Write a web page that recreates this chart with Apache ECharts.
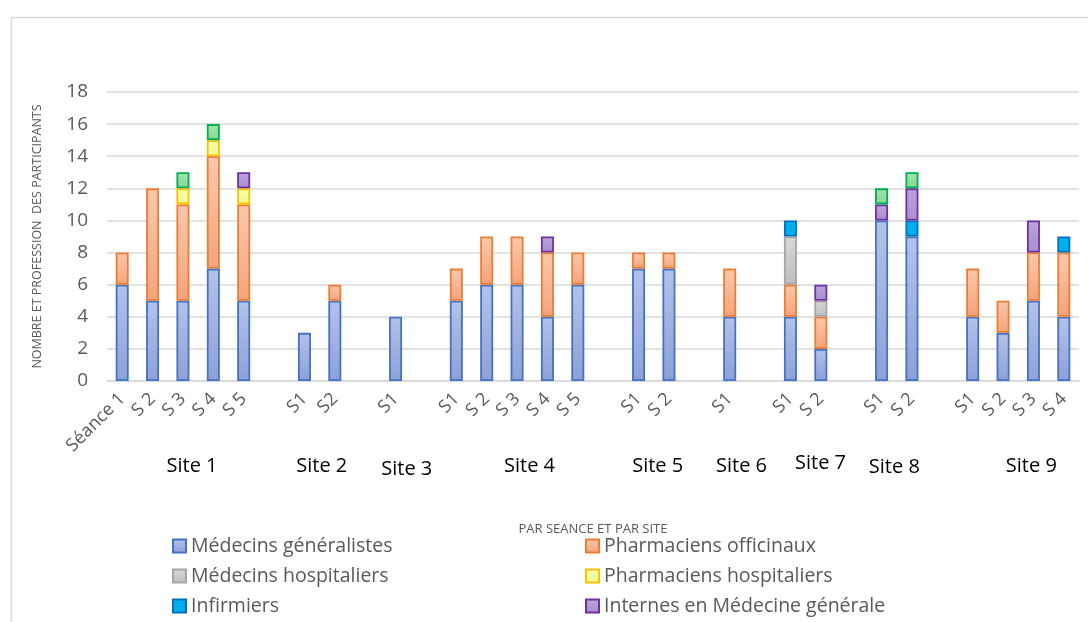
<!DOCTYPE html>
<html><head><meta charset="utf-8">
<script src="https://cdn.jsdelivr.net/npm/echarts@6.0.0/dist/echarts.min.js"></script>
<style>html,body{margin:0;padding:0;background:#fff}#c{width:1088px;height:622px}</style>
</head><body><div id="c"></div>
<script>
// ---- data ----
const categories = ['Séance 1','S 2','S 3','S 4','S 5','','S1','S2','','S1','','S1','S 2','S 3','S 4','S 5','','S1','S 2','','S1','','S1','S 2','','S1','S 2','','S1','S 2','S 3','S 4'];
const medecinsGeneralistes = [6,5,5,7,5,0,3,5,0,4,0,5,6,6,4,6,0,7,7,0,4,0,4,2,0,10,9,0,4,3,5,4];
const pharmaciensOfficinaux = [2,7,6,7,6,0,0,1,0,0,0,2,3,3,4,2,0,1,1,0,3,0,2,2,0,0,0,0,3,2,3,4];
const medecinsHospitaliers = [0,0,0,0,0,0,0,0,0,0,0,0,0,0,0,0,0,0,0,0,0,0,3,1,0,0,0,0,0,0,0,0];
const pharmaciensHospitaliers = [0,0,1,1,1,0,0,0,0,0,0,0,0,0,0,0,0,0,0,0,0,0,0,0,0,0,0,0,0,0,0,0];
const infirmiers = [0,0,0,0,0,0,0,0,0,0,0,0,0,0,0,0,0,0,0,0,0,0,1,0,0,0,1,0,0,0,0,1];
const internesMG = [0,0,0,0,1,0,0,0,0,0,0,0,0,0,1,0,0,0,0,0,0,0,0,1,0,1,2,0,0,0,2,0];
const autres = [0,0,1,1,0,0,0,0,0,0,0,0,0,0,0,0,0,0,0,0,0,0,0,0,0,1,1,0,0,0,0,0];
const sites = ['Site 1','Site 2','Site 3','Site 4','Site 5','Site 6','Site 7','Site 8','Site 9'];
const yTicks = [0,2,4,6,8,10,12,14,16,18];

// ---- layout (label placement, not data) ----
const siteLabelAt = [2.30, 6.57, 9.37, 13.41, 17.63, 20.39, 22.99, 25.42, 29.93];
const siteLabelY = [466,466,469,466,466,466,463,467,466];

const FONT = '"Open Sans", "Liberation Sans", sans-serif';
function grad(top, bottom){
  return new echarts.graphic.LinearGradient(0,0,0,1,[{offset:0,color:top},{offset:1,color:bottom}]);
}
function mk(name, data, top, bottom, border){
  return {
    name, type:'bar', stack:'all', barWidth:13,
    data: data.map(v => v === 0 ? '-' : v),
    itemStyle:{color:grad(top,bottom), borderColor:border, borderWidth:1.8},
    emphasis:{disabled:true}
  };
}
const series = [
  mk('Médecins généralistes', medecinsGeneralistes, '#B3C2E8', '#8DA1D7', '#4472C4'),
  mk('Pharmaciens officinaux', pharmaciensOfficinaux, '#F9C8AD', '#F3A47C', '#ED7D31'),
  mk('Médecins hospitaliers', medecinsHospitaliers, '#D8D8D8', '#BDBDBD', '#A5A5A5'),
  mk('Pharmaciens hospitaliers', pharmaciensHospitaliers, '#F6FFB0', '#EEF98E', '#FFC000'),
  mk('Infirmiers', infirmiers, '#00B0F0', '#00ADEE', '#0070C0'),
  mk('Internes en Médecine générale', internesMG, '#BBA5DB', '#A88ECF', '#7030A0'),
  mk('Autres', autres, '#A3E3AD', '#88D697', '#00B050')
];

const chart = echarts.init(document.getElementById('c'), null, {renderer:'canvas'});
const legendText = {color:'#595959', fontSize:19.5, fontFamily:FONT, lineHeight:20};
const legendBase = {orient:'vertical', top:536, height:120, padding:0,
  itemWidth:13, itemHeight:13, itemGap:10, textStyle:legendText, icon:'rect', selectedMode:false};
chart.setOption({
  animation:false,
  backgroundColor:'#fff',
  grid:{left:107, right:9, top:92, bottom:241, containLabel:false, outerBoundsMode:'none'},
  legend:[
    Object.assign({data:['Médecins généralistes','Médecins hospitaliers','Infirmiers'], left:172}, legendBase),
    Object.assign({data:['Pharmaciens officinaux','Pharmaciens hospitaliers','Internes en Médecine générale'], left:585}, legendBase)
  ],
  xAxis:{
    type:'category', data:categories,
    name:'PAR SEANCE ET PAR SITE', nameLocation:'middle', nameGap:142,
    nameTextStyle:{color:'#595959', fontSize:13, fontFamily:FONT},
    axisLine:{show:true, lineStyle:{color:'#D9D9D9', width:1.5}},
    axisTick:{show:false},
    axisLabel:{interval:0, rotate:45, color:'#595959', fontSize:18, fontFamily:FONT, margin:15}
  },
  yAxis:{
    type:'value', min:yTicks[0], max:yTicks[yTicks.length-1], interval:2,
    name:'NOMBRE ET PROFESSION  DES PARTICIPANTS', nameLocation:'middle', nameRotate:90, nameGap:63,
    nameTextStyle:{color:'#595959', fontSize:12.5, fontFamily:FONT},
    axisLine:{show:false}, axisTick:{show:false},
    axisLabel:{color:'#595959', fontSize:19, fontFamily:FONT, margin:19},
    splitLine:{lineStyle:{color:'#D9D9D9', width:1.5}}
  },
  series
});

function px(f){
  const a = Math.floor(f), b = a + 1;
  const pa = chart.convertToPixel({xAxisIndex:0}, a);
  const pb = chart.convertToPixel({xAxisIndex:0}, Math.min(b, categories.length-1));
  const step = (b <= categories.length-1) ? (pb - pa) : (pa - chart.convertToPixel({xAxisIndex:0}, a-1));
  return pa + (f - a) * step;
}
const g = [{type:'rect', left:9, top:15, shape:{x:0,y:0,width:1100,height:620}, style:{fill:'none', stroke:'#D9D9D9', lineWidth:1.5}, silent:true, z:-1}];
sites.forEach((s,i)=>{
  g.push({type:'text', x:px(siteLabelAt[i]), y:siteLabelY[i], style:{text:s, fill:'#000', fontSize:20, fontFamily:FONT, align:'center', verticalAlign:'middle'}, silent:true});
});
chart.setOption({graphic:g});
</script></body></html>
